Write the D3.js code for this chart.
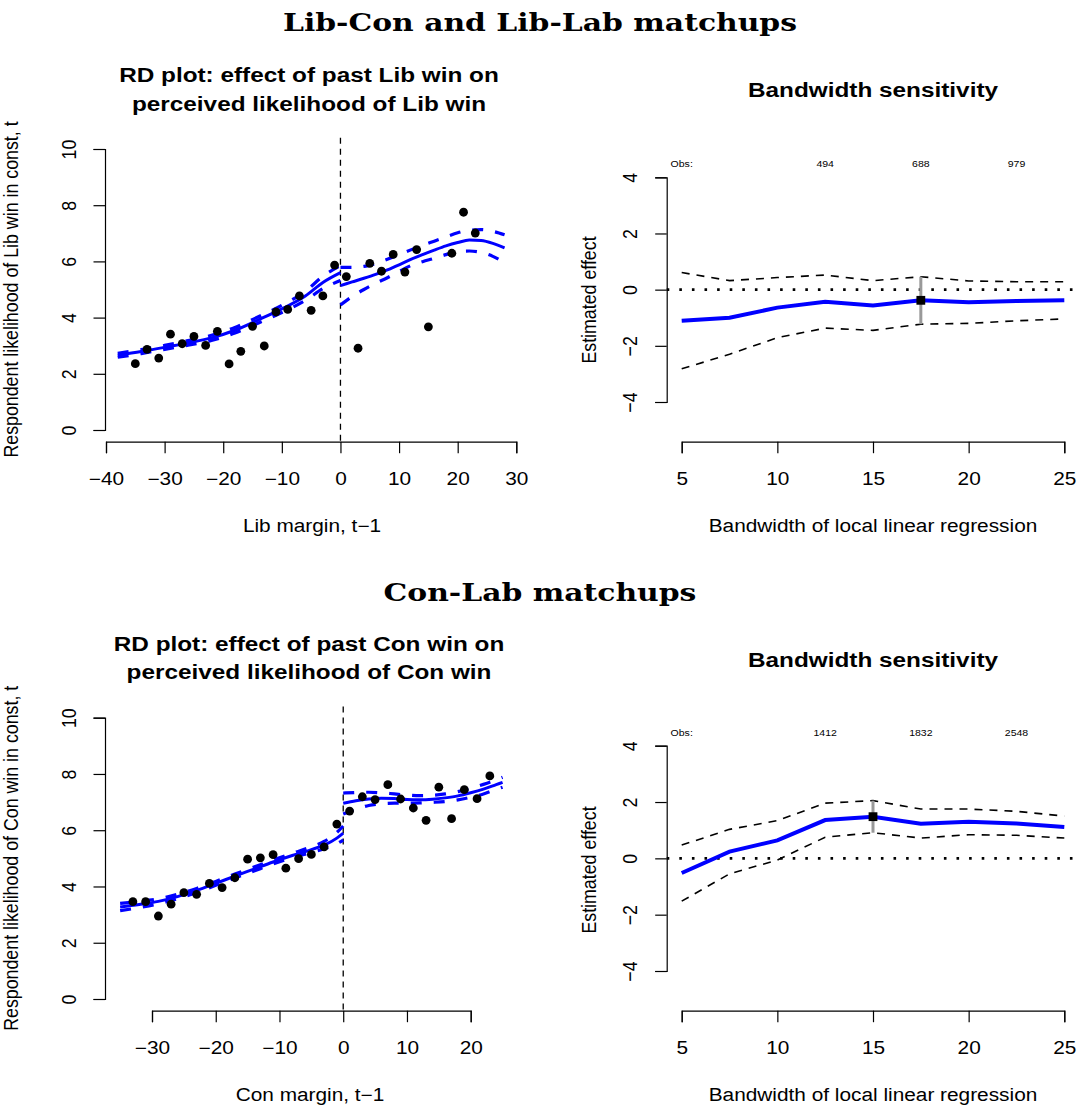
<!DOCTYPE html>
<html lang="en">
<head>
    <meta charset="UTF-8">
    <script src="https://d3js.org/d3.v7.min.js"></script>
    <title>RD plots</title>
    <style>
        body { margin: 0; background: #fff; }
        text { font-family: "Liberation Sans", Arial, sans-serif; fill: #000; }
        .bigtitle { font-family: "DejaVu Serif", "Liberation Serif", serif; font-weight: bold; }
    </style>
</head>
<body>
<div id="chart"></div>
<script>
// ---- data ----
// Lib-Con / Lib-Lab binned means
var lcBinX = [-35,-33,-31,-29,-27,-25,-23,-21,-19,-17,-15,-13,-11,-9,-7,-5,-3,-1,1,3,5,7,9,11,13,15,19,21,23];
var lcBinY = [2.36,2.87,2.56,3.41,3.07,3.33,3.01,3.51,2.35,2.80,3.69,2.99,4.20,4.29,4.77,4.26,4.77,5.87,5.46,2.91,5.93,5.65,6.25,5.62,6.42,3.67,6.29,7.75,7.01];

// local fits, left and right of the cutoff
var lcLeftX  = [-38,-34,-30,-26,-22,-18,-14,-10,-6,-3,0];
var lcLeftFit = [2.66,2.79,2.94,3.10,3.28,3.55,3.92,4.31,4.77,5.25,5.60];
var lcLeftHi  = [2.73,2.86,3.01,3.18,3.37,3.65,4.03,4.44,4.93,5.47,5.85];
var lcLeftLo  = [2.59,2.72,2.87,3.02,3.19,3.45,3.81,4.18,4.61,5.03,5.32];
var lcRightX  = [0,2,4,6,8,10,12,14,16,18,20,22,24,26,28];
var lcRightFit = [5.14,5.27,5.40,5.54,5.70,5.88,6.07,6.24,6.40,6.55,6.67,6.76,6.74,6.64,6.48];
var lcRightHi  = [5.79,5.79,5.82,5.93,6.08,6.24,6.41,6.57,6.72,6.87,7.02,7.11,7.13,7.07,6.95];
var lcRightLo  = [4.45,4.75,5.00,5.22,5.42,5.64,5.85,5.99,6.11,6.24,6.35,6.37,6.32,6.18,5.95];

// Con-Lab binned means
var clBinX = [-33,-31,-29,-27,-25,-23,-21,-19,-17,-15,-13,-11,-9,-7,-5,-3,-1,1,3,5,7,9,11,13,15,17,19,21,23];
var clBinY = [3.46,3.46,2.95,3.37,3.78,3.72,4.11,3.96,4.31,4.97,5.02,5.13,4.65,4.99,5.14,5.41,6.22,6.68,7.19,7.09,7.62,7.11,6.79,6.35,7.53,6.41,7.44,7.12,7.93];

var clLeftX  = [-35,-32,-29,-26,-23,-20,-17,-14,-11,-8,-5,-3,-1,0];
var clLeftFit = [3.27,3.36,3.47,3.64,3.86,4.11,4.37,4.62,4.87,5.10,5.31,5.47,5.72,5.90];
var clLeftHi  = [3.40,3.47,3.56,3.72,3.93,4.18,4.44,4.69,4.94,5.18,5.41,5.60,5.92,6.15];
var clLeftLo  = [3.14,3.25,3.38,3.56,3.79,4.04,4.30,4.55,4.80,5.02,5.21,5.34,5.52,5.65];
var clRightX  = [0,2,4,6,8,10,12,14,16,18,20,22,24,25];
var clRightFit = [6.96,7.05,7.11,7.14,7.13,7.09,7.08,7.10,7.15,7.22,7.33,7.46,7.62,7.70];
var clRightHi  = [7.32,7.34,7.35,7.33,7.29,7.25,7.23,7.24,7.29,7.37,7.49,7.63,7.79,7.88];
var clRightLo  = [6.58,6.75,6.88,6.94,6.96,6.96,6.97,6.99,7.02,7.08,7.17,7.29,7.45,7.53];

// bandwidth sensitivity
var bandwidths = [5,7.5,10,12.5,15,17.5,20,22.5,25];
var lcEst = [-1.11,-1.00,-0.64,-0.43,-0.56,-0.38,-0.45,-0.40,-0.38];
var lcHi  = [0.61,0.32,0.43,0.52,0.32,0.46,0.31,0.28,0.28];
var lcLo  = [-2.82,-2.30,-1.71,-1.37,-1.45,-1.23,-1.20,-1.11,-1.04];
var clEst = [-0.52,0.24,0.64,1.36,1.48,1.23,1.30,1.24,1.11];
var clHi  = [0.47,1.03,1.34,1.96,2.05,1.75,1.75,1.67,1.50];
var clLo  = [-1.52,-0.55,-0.06,0.75,0.91,0.72,0.84,0.82,0.72];
var lcChosenBw = 17.5;
var clChosenBw = 15;

var obsAt = [5,12.5,17.5,22.5];
var lcObs = ["Obs:","494","688","979"];
var clObs = ["Obs:","1412","1832","2548"];

// ticks
var lcXTicks = [-40,-30,-20,-10,0,10,20,30];
var clXTicks = [-30,-20,-10,0,10,20];
var rdYTicks = [0,2,4,6,8,10];
var bwXTicks = [5,10,15,20,25];
var bwYTicks = [-4,-2,0,2,4];

var width = 1080, height = 1108;
var blue = '#0000ff';
var tickLen = 11.5;
var sx = 1.17;       // the picture's text is a little wider than tall
var fs = 17.8;       // base text size
var fsMain = 20.8;   // panel titles

var svg = d3.select('#chart').append('svg')
    .attr('width', width)
    .attr('height', height);
svg.append('rect').attr('width', width).attr('height', height).attr('fill', '#fff');

function zip(xs, ys) {
    return xs.map(function(x, i) { return [x, ys[i]]; });
}

function drawAxes(x, y, xTicks, yTicks, axisY, axisX) {
    var gx = svg.append('g')
        .attr('transform', 'translate(0,' + axisY + ')')
        .call(d3.axisBottom(x).tickValues(xTicks).tickSize(tickLen).tickSizeOuter(tickLen));
    gx.selectAll('text').attr('y', null).attr('dy', null)
        .attr('transform', 'translate(0,43.3) scale(' + sx + ',1)')
        .style('font-size', fs + 'px').style('font-family', '"Liberation Sans", Arial, sans-serif');

    var gy = svg.append('g')
        .attr('transform', 'translate(' + axisX + ',0)')
        .call(d3.axisLeft(y).tickValues(yTicks).tickSize(tickLen).tickSizeOuter(tickLen));
    gy.selectAll('text')
        .attr('x', null).attr('dy', null)
        .attr('text-anchor', 'middle')
        .attr('transform', 'translate(-29.5,0) scale(' + sx + ',1) rotate(-90)')
        .style('font-size', fs + 'px').style('font-family', '"Liberation Sans", Arial, sans-serif');

    [gx, gy].forEach(function(g) {
        g.selectAll('path, line').attr('stroke', '#000').attr('stroke-width', 1.2);
    });
}

function panelText(txt, x, y, size, weight, rotate) {
    return svg.append('text')
        .attr('text-anchor', 'middle')
        .attr('transform', 'translate(' + x + ',' + y + ') scale(' + sx + ',1)' + (rotate ? ' rotate(-90)' : ''))
        .style('font-size', size + 'px')
        .style('font-weight', weight || 'normal')
        .text(txt);
}

// RD scatter panel
function rdPanel(o) {
    var x = d3.scaleLinear().domain(o.xDom).range(o.xRange);
    var y = d3.scaleLinear().domain([0, 10]).range(o.yRange);

    drawAxes(x, y, o.xTicks, rdYTicks, o.axisY, o.axisX);

    // cutoff
    svg.append('line')
        .attr('x1', x(0)).attr('x2', x(0))
        .attr('y1', o.plotTop).attr('y2', o.plotBottom)
        .attr('stroke', '#000').attr('stroke-width', 1.3)
        .attr('stroke-dasharray', '6,5');

    var line = d3.line()
        .x(function(d) { return x(d[0]); })
        .y(function(d) { return y(d[1]); })
        .curve(d3.curveMonotoneX);

    o.fits.forEach(function(f) {
        [f.hi, f.lo].forEach(function(band) {
            svg.append('path')
                .attr('d', line(zip(f.x, band)))
                .attr('fill', 'none').attr('stroke', blue)
                .attr('stroke-width', 3.2)
                .attr('stroke-dasharray', '11,12');
        });
        svg.append('path')
            .attr('d', line(zip(f.x, f.fit)))
            .attr('fill', 'none').attr('stroke', blue)
            .attr('stroke-width', 3);
    });

    svg.append('g').selectAll('circle')
        .data(zip(o.binX, o.binY))
        .enter().append('circle')
            .attr('cx', function(d) { return x(d[0]); })
            .attr('cy', function(d) { return y(d[1]); })
            .attr('r', 4.4)
            .attr('fill', '#000');

    panelText(o.title[0], o.titleX, o.titleY, fsMain, 'bold');
    panelText(o.title[1], o.titleX, o.titleY + 28.3, fsMain, 'bold');
    panelText(o.xlab, o.labX, o.axisY + 90, fs);
    panelText(o.ylab, 18, (o.plotTop + o.plotBottom) / 2, fs, 'normal', true);
}

// bandwidth sensitivity panel
function bwPanel(o) {
    var x = d3.scaleLinear().domain([5, 25]).range([681.7, 1064.3]);
    var y = d3.scaleLinear().domain([-4, 4]).range(o.yRange);

    drawAxes(x, y, bwXTicks, bwYTicks, o.axisY, 666.7);

    var line = d3.line()
        .x(function(d) { return x(d[0]); })
        .y(function(d) { return y(d[1]); });

    svg.append('line')
        .attr('x1', 666.7).attr('x2', 1080)
        .attr('y1', y(0)).attr('y2', y(0))
        .attr('stroke', '#000').attr('stroke-width', 2.6)
        .attr('stroke-dasharray', '2.6,10');

    [o.hi, o.lo].forEach(function(band) {
        svg.append('path')
            .attr('d', line(zip(bandwidths, band)))
            .attr('fill', 'none').attr('stroke', '#000')
            .attr('stroke-width', 1.6)
            .attr('stroke-dasharray', '8,7');
    });

    svg.append('path')
        .attr('d', line(zip(bandwidths, o.est)))
        .attr('fill', 'none').attr('stroke', blue)
        .attr('stroke-width', 4);

    var k = bandwidths.indexOf(o.chosen);
    svg.append('line')
        .attr('x1', x(o.chosen)).attr('x2', x(o.chosen))
        .attr('y1', y(o.hi[k])).attr('y2', y(o.lo[k]))
        .attr('stroke', '#999').attr('stroke-width', 3);
    svg.append('rect')
        .attr('x', x(o.chosen) - 4.4).attr('y', y(o.est[k]) - 4.4)
        .attr('width', 8.8).attr('height', 8.8)
        .attr('fill', '#000');

    svg.append('g').selectAll('text')
        .data(obsAt)
        .enter().append('text')
            .attr('text-anchor', 'middle')
            .attr('transform', function(d) { return 'translate(' + x(d) + ',' + o.obsY + ') scale(' + sx + ',1)'; })
            .style('font-size', '9px')
            .text(function(d, i) { return o.obs[i]; });

    panelText('Bandwidth sensitivity', 873, o.titleY, fsMain, 'bold');
    panelText('Bandwidth of local linear regression', 873, o.axisY + 90, fs);
    panelText('Estimated effect', 596, o.ylabY, fs, 'normal', true);
}

// ---- top row ----
rdPanel({
    xDom: [-40, 30], xRange: [106, 516.3], yRange: [430, 149],
    xTicks: lcXTicks, axisY: 441.7, axisX: 105,
    plotTop: 137.8, plotBottom: 441.2,
    binX: lcBinX, binY: lcBinY,
    fits: [
        {x: lcLeftX, fit: lcLeftFit, hi: lcLeftHi, lo: lcLeftLo},
        {x: lcRightX, fit: lcRightFit, hi: lcRightHi, lo: lcRightLo}
    ],
    title: ['RD plot: effect of past Lib win on', 'perceived likelihood of Lib win'],
    titleX: 309, titleY: 82.3,
    xlab: 'Lib margin, t\u22121', labX: 312,
    ylab: 'Respondent likelihood of Lib win in const, t'
});
bwPanel({
    yRange: [402, 177.3], axisY: 441.7,
    est: lcEst, hi: lcHi, lo: lcLo, chosen: lcChosenBw,
    obs: lcObs, obsY: 166.7, titleY: 97.3, ylabY: 300
});

// ---- bottom row ----
rdPanel({
    xDom: [-30, 20], xRange: [152, 470.7], yRange: [999, 717.7],
    xTicks: clXTicks, axisY: 1010.7, axisX: 105,
    plotTop: 706.4, plotBottom: 1010.2,
    binX: clBinX, binY: clBinY,
    fits: [
        {x: clLeftX, fit: clLeftFit, hi: clLeftHi, lo: clLeftLo},
        {x: clRightX, fit: clRightFit, hi: clRightHi, lo: clRightLo}
    ],
    title: ['RD plot: effect of past Con win on', 'perceived likelihood of Con win'],
    titleX: 309, titleY: 651,
    xlab: 'Con margin, t\u22121', labX: 310,
    ylab: 'Respondent likelihood of Con win in const, t'
});
bwPanel({
    yRange: [971, 745.7], axisY: 1010.7,
    est: clEst, hi: clHi, lo: clLo, chosen: clChosenBw,
    obs: clObs, obsY: 735.5, titleY: 666.5, ylabY: 870
});

// ---- section titles (serif, stretched to the width in the picture) ----
var t1 = svg.append('text').attr('class', 'bigtitle')
    .attr('x', 540).attr('y', 31).attr('text-anchor', 'middle')
    .style('font-size', '25px').text('Lib-Con and Lib-Lab matchups');
var t2 = svg.append('text').attr('class', 'bigtitle')
    .attr('x', 540).attr('y', 601).attr('text-anchor', 'middle')
    .style('font-size', '25px').text('Con-Lab matchups');
var k = 514 / t1.node().getComputedTextLength();
t1.attr('textLength', 514).attr('lengthAdjust', 'spacingAndGlyphs');
t2.attr('textLength', t2.node().getComputedTextLength() * k).attr('lengthAdjust', 'spacingAndGlyphs');
</script>
</body>
</html>
